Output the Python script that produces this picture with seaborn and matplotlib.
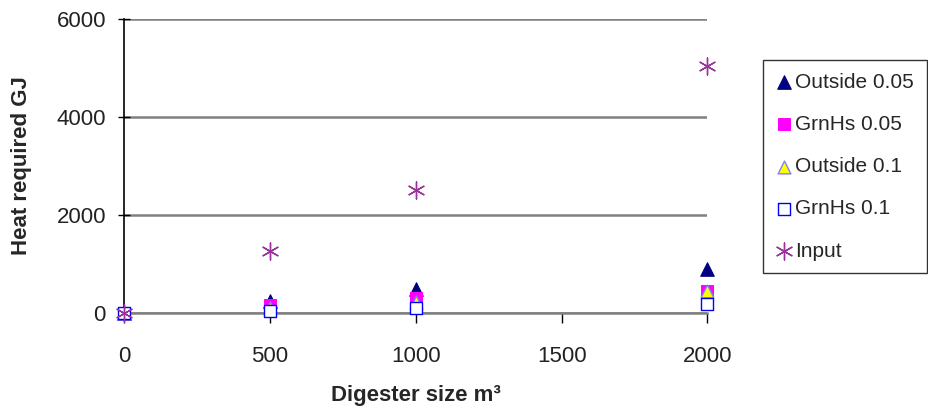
import matplotlib
matplotlib.use("Agg")
import matplotlib.pyplot as plt
import seaborn as sns
import pandas as pd

sizes = [0, 500, 1000, 2000]
outside_005 = [0, 250, 490, 900]
grnhs_005 = [0, 170, 300, 440]
outside_01 = [0, 100, 220, 450]
grnhs_01 = [0, 50, 100, 180]
input_heat = [0, 1270, 2520, 5040]
series_names = ["Outside 0.05", "GrnHs 0.05", "Outside 0.1", "GrnHs 0.1", "Input"]
y_ticks = [0, 2000, 4000, 6000]
x_ticks = [0, 500, 1000, 1500, 2000]

sns.set_style("white")
plt.rcParams["font.family"] = ["Liberation Sans", "DejaVu Sans"]

fig = plt.figure(figsize=(9.29, 4.13), dpi=100)
ax = fig.add_axes([0.1335, 0.242, 0.628, 0.712])

styles = [
    dict(marker="^", color="#000080", edgecolor="#000080", s=95),
    dict(marker="s", color="#ff00ff", edgecolor="#ff00ff", s=75),
    dict(marker="^", color="#ffff00", edgecolor="#8080ff", s=85, linewidth=1),
    dict(marker="s", color="white", edgecolor="#0000ff", s=80, linewidth=1),
    dict(marker=(6, 2, 0), color="#993399", s=150, linewidth=1),
]
data = [outside_005, grnhs_005, outside_01, grnhs_01, input_heat]
for name, vals, st in zip(series_names, data, styles):
    df = pd.DataFrame({"x": sizes, "y": vals})
    sns.scatterplot(data=df, x="x", y="y", ax=ax, label=name, zorder=3, clip_on=False, **st)

ax.set_xlim(0, 2000)
ax.set_ylim(0, 6000)
ax.set_xticks(x_ticks)
ax.set_yticks(y_ticks)
ax.yaxis.grid(True, color="#808080", linewidth=1.8)
ax.xaxis.grid(False)
for side in ["top", "right"]:
    ax.spines[side].set_visible(False)
ax.spines["left"].set_color("black")
ax.spines["left"].set_linewidth(1.2)
ax.spines["bottom"].set_color("#808080")
ax.spines["bottom"].set_linewidth(1.8)
ax.tick_params(axis="y", direction="inout", length=8, width=1, color="black", labelsize=16,
               pad=9, left=True, labelcolor="#222222")
ax.tick_params(axis="x", direction="out", length=7, width=1, color="black", labelsize=16,
               pad=17, bottom=True, labelcolor="#222222")
ax.set_xlabel("Digester size m³", fontsize=16, fontweight="bold")
ax.set_ylabel("Heat required GJ", fontsize=16, fontweight="bold")
ax.xaxis.set_label_coords(0.5, -0.245)
ax.yaxis.set_label_coords(-0.158, 0.5)

leg = ax.legend(loc="upper left", bbox_to_anchor=(763 / 929, 1 - 60 / 413), bbox_transform=fig.transFigure,
                borderaxespad=0, frameon=True, fancybox=False,
                edgecolor="black", fontsize=15, handletextpad=0.15, labelspacing=1.12,
                borderpad=0.6, handlelength=0.8, markerscale=1.0)
leg.get_frame().set_linewidth(1)

fig.savefig("out.png", dpi=100)
